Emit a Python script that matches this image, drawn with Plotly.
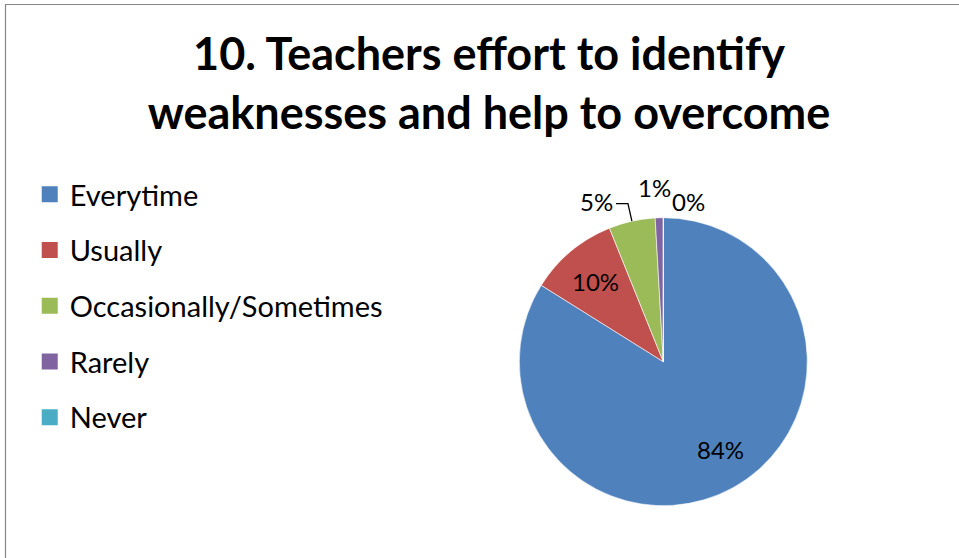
import math
import plotly.graph_objects as go

# ---- data ----
categories = ["Everytime", "Usually", "Occasionally/Sometimes", "Rarely", "Never"]
values = [83.9, 10.0, 5.2, 0.9, 0.0]
colors = ["#4F81BD", "#C0504D", "#9BBB59", "#8064A2", "#4BACC6"]
title_lines = ["10. Teachers effort to identify", "weaknesses and help to overcome"]

W, H = 959, 558
FONT = "Lato"

# pie placement (pixels)
pie_left, pie_right = 519.3, 807.3
pie_top, pie_bottom = 217.7, 505.7
cx = (pie_left + pie_right) / 2
cy = (pie_top + pie_bottom) / 2
R = (pie_right - pie_left) / 2

def to_paper(px, py):
    return px / W, 1 - py / H

total = sum(values)
fracs = [v / total for v in values]
labels_txt = [f"{round(f * 100)}%" for f in fracs]
cum = []
acc = 0.0
for f in fracs:
    cum.append((acc, acc + f))
    acc += f

def pt(theta_frac, r):
    th = theta_frac * 2 * math.pi
    return cx + r * R * math.sin(th), cy - r * R * math.cos(th)

fig = go.Figure()
fig.add_trace(go.Pie(
    labels=categories, values=values, sort=False, direction="clockwise",
    rotation=0, marker=dict(colors=colors, line=dict(color="white", width=0.6)),
    textinfo="none", hoverinfo="label+percent", showlegend=False,
    domain=dict(x=[pie_left / W, pie_right / W], y=[1 - pie_bottom / H, 1 - pie_top / H]),
))

# legend via marker-only traces
for cat, col in zip(categories, colors):
    fig.add_trace(go.Scatter(x=[None], y=[None], mode="markers", name=cat,
                             legendgroup=cat,
                             marker=dict(symbol="square", size=18, color=col),
                             hoverinfo="skip"))

annotations = []
shapes = []
lab_font = dict(family=FONT, size=24, color="black")
for i, (a, b) in enumerate(cum):
    mid = (a + b) / 2
    txt = labels_txt[i]
    if i == 0:
        px, py = pt(mid, 0.73)
        x, y = to_paper(px, py)
        annotations.append(dict(x=x, y=y, xref="paper", yref="paper", text=txt,
                                showarrow=False, xanchor="center", yanchor="middle",
                                xshift=6, yshift=4, font=lab_font))
    elif i == 1:
        px, py = pt(mid, 0.73)
        x, y = to_paper(px, py)
        annotations.append(dict(x=x, y=y, xref="paper", yref="paper", text=txt,
                                showarrow=False, xanchor="center", yanchor="middle",
                                font=lab_font))
    elif i == 2:
        p0 = pt(mid, 1.0)
        p1 = pt(mid, 1.125)
        p2 = (p1[0] - 12, p1[1])
        path = "M {} {} L {} {} L {} {}".format(*to_paper(*p0), *to_paper(*p1), *to_paper(*p2))
        shapes.append(dict(type="path", path=path, xref="paper", yref="paper",
                           line=dict(color="black", width=1.3)))
        x, y = to_paper(*p2)
        annotations.append(dict(x=x, y=y, xref="paper", yref="paper", text=txt,
                                showarrow=False, xanchor="right", yanchor="middle",
                                xshift=-1, yshift=2, font=lab_font))
    elif i == 3:
        px, py = pt(mid, 1.21)
        x, y = to_paper(px, py)
        annotations.append(dict(x=x, y=y, xref="paper", yref="paper", text=txt,
                                showarrow=False, xanchor="center", yanchor="middle",
                                xshift=-4, font=lab_font))
    else:
        px, py = pt(mid, 1.11)
        x, y = to_paper(px, py)
        annotations.append(dict(x=x, y=y, xref="paper", yref="paper", text=txt,
                                showarrow=False, xanchor="left", yanchor="middle",
                                xshift=7, font=lab_font))

# chart border
shapes.append(dict(type="rect", xref="paper", yref="paper",
                   x0=5.5 / W, y0=1 - 4.5 / H, x1=1.02, y1=-0.02,
                   line=dict(color="#868686", width=1.2), layer="below"))

fig.update_layout(
    width=W, height=H,
    margin=dict(l=0, r=0, t=0, b=0),
    paper_bgcolor="white", plot_bgcolor="white",
    font=dict(family=FONT, color="black"),
    title=dict(text="<br>".join(title_lines), x=489 / W, xanchor="center",
               xref="container", yref="container", y=1 - 70 / H, yanchor="top",
               font=dict(family=FONT, size=45, color="black", weight="bold")),
    xaxis=dict(visible=False), yaxis=dict(visible=False),
    showlegend=True,
    legend=dict(x=0.031, y=1 - 169 / H, xanchor="left", yanchor="top",
                font=dict(family=FONT, size=29, color="black"),
                tracegroupgap=15, traceorder="grouped", bgcolor="rgba(0,0,0,0)"),
    annotations=annotations, shapes=shapes,
)

fig.write_html("out.html", config={"displayModeBar": False},
               post_script="document.body.style.margin='0';document.body.style.padding='0';")
